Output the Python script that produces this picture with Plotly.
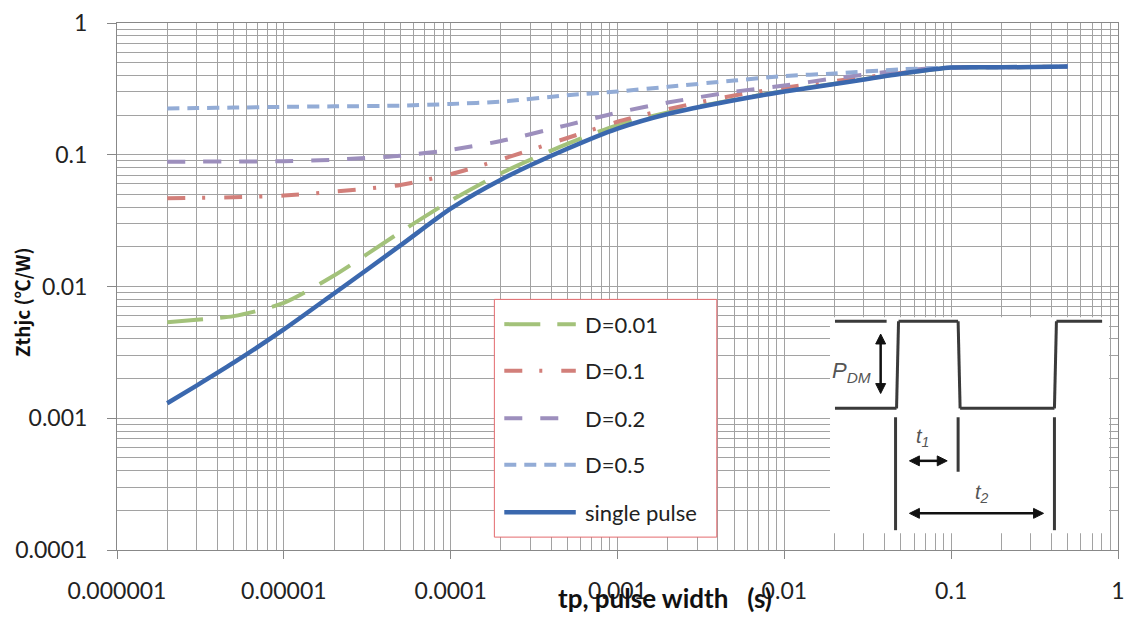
import plotly.graph_objects as go

# Pulse width (s)
tp = [2e-6, 3e-6, 5e-6, 1e-5, 2e-5, 5e-5, 1e-4, 2e-4, 5e-4,
      1e-3, 2e-3, 5e-3, 1e-2, 2e-2, 5e-2, 0.1, 0.2, 0.5]

# Transient thermal impedance Zthjc (degC/W) per duty cycle
z_d001 = [0.00536, 0.0056, 0.00596, 0.0075, 0.0121, 0.0259, 0.0448, 0.0723, 0.121,
          0.168, 0.209, 0.262, 0.305, 0.346, 0.413, 0.459, 0.461, 0.467]
z_d01 = [0.0467, 0.0471, 0.0475, 0.0490, 0.0525, 0.059, 0.0712, 0.092, 0.134,
         0.178, 0.222, 0.282, 0.323, 0.363, 0.417, 0.459, 0.461, 0.467]
z_d02 = [0.0886, 0.0887, 0.0888, 0.0894, 0.0917, 0.0983, 0.109, 0.127, 0.168,
         0.209, 0.249, 0.301, 0.335, 0.380, 0.436, 0.459, 0.461, 0.467]
z_d05 = [0.2244, 0.226, 0.228, 0.231, 0.233, 0.236, 0.243, 0.253, 0.283,
         0.302, 0.328, 0.366, 0.396, 0.414, 0.445, 0.459, 0.461, 0.467]
z_single = [0.0013, 0.00177, 0.00264, 0.00472, 0.00885, 0.0205, 0.039, 0.0647, 0.111,
            0.158, 0.204, 0.259, 0.302, 0.344, 0.412, 0.459, 0.461, 0.467]

series_names = ["D=0.01", "D=0.1", "D=0.2", "D=0.5", "single pulse"]
series_values = [z_d001, z_d01, z_d02, z_d05, z_single]

x_tickvals = [1e-6, 1e-5, 1e-4, 1e-3, 1e-2, 1e-1, 1]
x_ticktext = ["0.000001", "0.00001", "0.0001", "0.001", "0.01", "0.1", "1"]
y_tickvals = [1e-4, 1e-3, 1e-2, 1e-1, 1]
y_ticktext = ["0.0001", "0.001", "0.01", "0.1", "1"]

styles = [
    dict(color="#a3c27a", dash="36px,17px", width=4),
    dict(color="#d27f7a", dash="18px,17px,3px,19px", width=4),
    dict(color="#9d8fbd", dash="18px,18px", width=4),
    dict(color="#93acd6", dash="12px,8px", width=4),
    dict(color="#3b68ae", dash="solid", width=4.5),
]

W, H = 1133, 624
L, R, T, B = 117, 1125, 18, 550


def px(x):
    return (x - L) / (R - L)


def py(y):
    return (B - y) / (B - T)


def minor_vals(lo, hi):
    vals = []
    for e in range(lo, hi):
        for m in range(2, 10):
            vals.append(m * 10.0 ** e)
    return vals


FONT = "Lato"
CJK = "Noto Sans CJK SC"
GRID = "#a2a2a2"

fig = go.Figure()
for name, vals, st in zip(series_names, series_values, styles):
    fig.add_trace(go.Scatter(
        x=tp, y=vals, name=name, mode="lines", showlegend=False,
        line=dict(color=st["color"], dash=st["dash"], width=st["width"], shape="spline", smoothing=0.7),
    ))

shapes = []
annotations = []

# legend box
shapes.append(dict(type="rect", xref="paper", yref="paper",
                   x0=px(497), x1=px(721), y0=py(537), y1=py(297),
                   fillcolor="white", line=dict(color="#e46a6e", width=1), layer="above"))
legend_rows = [322, 369, 417, 464, 512]
for name, st, yc in zip(series_names, styles, legend_rows):
    shapes.append(dict(type="line", xref="paper", yref="paper",
                       x0=px(507), x1=px(579), y0=py(yc), y1=py(yc),
                       line=dict(color=st["color"], dash=st["dash"], width=st["width"]),
                       layer="above"))
    annotations.append(dict(xref="paper", yref="paper", x=px(586), y=py(yc),
                            xanchor="left", yanchor="middle", showarrow=False,
                            text=name, font=dict(family=FONT, size=22, color="#222")))

# pulse waveform inset
INK = "#3a3a3a"
shapes.append(dict(type="rect", xref="paper", yref="paper",
                   x0=px(835), x1=px(1116), y0=py(533), y1=py(315),
                   fillcolor="white", line=dict(width=0), layer="above"))


def seg(x0, y0, x1, y1, w=3, color=INK):
    shapes.append(dict(type="line", xref="paper", yref="paper",
                       x0=px(x0), y0=py(y0), x1=px(x1), y1=py(y1),
                       line=dict(color=color, width=w), layer="above"))


def tri(pts, color="#111"):
    d = "M " + " L ".join(f"{px(a):.5f},{py(b):.5f}" for a, b in pts) + " Z"
    shapes.append(dict(type="path", xref="paper", yref="paper", path=d,
                       fillcolor=color, line=dict(color=color, width=1), layer="above"))


hi_lvl, lo_lvl = 319, 407
seg(840, hi_lvl, 892, hi_lvl)
wave = [(840, lo_lvl), (902, lo_lvl), (904, hi_lvl), (964, hi_lvl), (966, lo_lvl),
        (1061, lo_lvl), (1063, hi_lvl), (1109, hi_lvl)]
for (a, b), (c, d) in zip(wave[:-1], wave[1:]):
    seg(a, b, c, d)
seg(901, 416, 901, 530)
seg(964, 416, 964, 471)
seg(1061, 416, 1061, 530)

HEAD, HALF = 10, 5


def h_arrow(x0, x1, y):
    seg(x0 + HEAD - 2, y, x1 - HEAD + 2, y, w=2.5, color="#111")
    tri([(x0, y), (x0 + HEAD, y - HALF), (x0 + HEAD, y + HALF)])
    tri([(x1, y), (x1 - HEAD, y - HALF), (x1 - HEAD, y + HALF)])


def v_arrow(x, y0, y1):
    seg(x, y0 + HEAD - 2, x, y1 - HEAD + 2, w=2.5, color="#111")
    tri([(x, y0), (x - HALF, y0 + HEAD), (x + HALF, y0 + HEAD)])
    tri([(x, y1), (x - HALF, y1 - HEAD), (x + HALF, y1 - HEAD)])


v_arrow(886, 332, 392)
h_arrow(915, 953, 460)
h_arrow(915, 1050, 513)

LBL = "Liberation Sans"
annotations.append(dict(xref="paper", yref="paper", x=px(835), y=py(370), showarrow=False,
                        xanchor="left", yanchor="middle",
                        text="<i>P</i><sub><i>DM</i></sub>",
                        font=dict(family=LBL, size=22, color="#555")))
annotations.append(dict(xref="paper", yref="paper", x=px(920), y=py(436), showarrow=False,
                        xanchor="left", yanchor="middle",
                        text="<i>t</i><sub><i>1</i></sub>",
                        font=dict(family=LBL, size=20, color="#555")))
annotations.append(dict(xref="paper", yref="paper", x=px(979), y=py(493), showarrow=False,
                        xanchor="left", yanchor="middle",
                        text="<i>t</i><sub><i>2</i></sub>",
                        font=dict(family=LBL, size=20, color="#555")))

# axis titles
annotations.append(dict(xref="paper", yref="paper", x=px(669), y=py(598), showarrow=False,
                        xanchor="center", yanchor="middle",
                        text="tp, pulse width\u00a0\u00a0\u00a0(s)",
                        font=dict(family=FONT, size=26, color="#111", weight="bold")))
annotations.append(dict(xref="paper", yref="paper", x=px(21), y=py(300), showarrow=False,
                        xanchor="center", yanchor="middle", textangle=-90,
                        text="Zthjc (℃/W)",
                        font=dict(family=CJK, size=19, color="#111", weight="bold")))

fig.update_layout(
    width=W, height=H,
    margin=dict(l=L, r=W - R, t=T, b=H - B, pad=0),
    paper_bgcolor="white", plot_bgcolor="white",
    shapes=shapes, annotations=annotations,
    showlegend=False,
    xaxis=dict(type="log", range=[-6, 0], tickvals=x_tickvals, ticktext=x_ticktext,
               ticks="outside", ticklen=8, tickcolor="#888", tickwidth=1,
               showline=True, linecolor="#888", linewidth=1, mirror=True,
               showgrid=True, gridcolor=GRID, gridwidth=1, zeroline=False,
               minor=dict(tickvals=minor_vals(-6, 0), showgrid=True, gridcolor=GRID, gridwidth=1, ticks=""),
               tickfont=dict(family=FONT, size=23, color="#222"), ticklabelstandoff=12),
    yaxis=dict(type="log", range=[-4, 0], tickvals=y_tickvals, ticktext=y_ticktext,
               ticks="outside", ticklen=9, tickcolor="#888", tickwidth=1,
               showline=True, linecolor="#888", linewidth=1, mirror=True,
               showgrid=True, gridcolor=GRID, gridwidth=1, zeroline=False,
               minor=dict(tickvals=minor_vals(-4, 0), showgrid=True, gridcolor=GRID, gridwidth=1, ticks=""),
               tickfont=dict(family=FONT, size=23, color="#222"), ticklabelstandoff=15),
)

fig.write_html("out.html")
